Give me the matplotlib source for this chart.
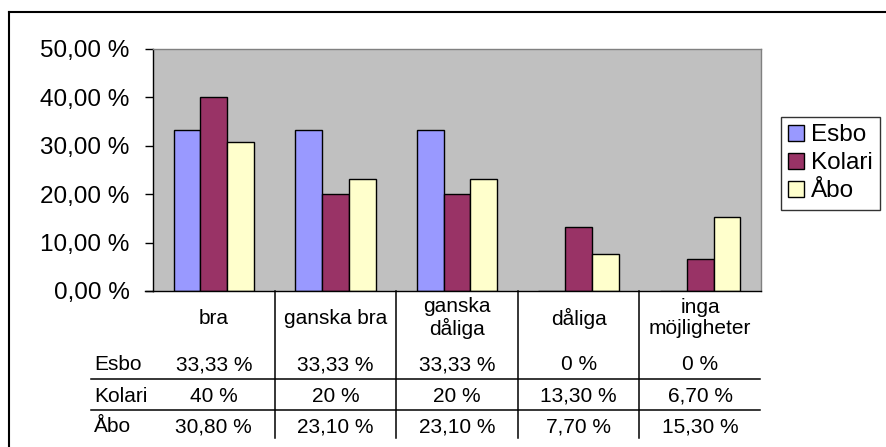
import matplotlib
matplotlib.use('Agg')
import matplotlib.pyplot as plt
import numpy as np
from matplotlib.lines import Line2D
from matplotlib.transforms import blended_transform_factory

categories = ['bra', 'ganska bra', 'ganska\ndåliga', 'dåliga', 'inga\nmöjligheter']
series_names = ['Esbo', 'Kolari', 'Åbo']
esbo = [33.33, 33.33, 33.33, 0, 0]
kolari = [40, 20, 20, 13.3, 6.7]
abo = [30.8, 23.1, 23.1, 7.7, 15.3]
yticks = [0, 10, 20, 30, 40, 50]
colors = ['#9999FF', '#993366', '#FFFFCC']

plt.rcParams['font.family'] = ['Liberation Sans', 'DejaVu Sans']

W, H = 886, 447
fig = plt.figure(figsize=(W / 100, H / 100), dpi=100)


def fx(px):
    return px / W


def fy(py):
    return 1 - py / H


ax = fig.add_axes([fx(153), fy(291), fx(761) - fx(153), fy(49) - fy(291)])
ax.set_facecolor('#C0C0C0')
n = len(categories)
x = np.arange(n)
bw = 0.22
all_series = [esbo, kolari, abo]
handles = []
for i, (vals, c, name) in enumerate(zip(all_series, colors, series_names)):
    h = ax.bar(x + (i - 1) * bw, vals, width=bw, color=c, edgecolor='black',
               linewidth=1, label=name, zorder=3)
    handles.append(h)
ax.set_xlim(-0.5, n - 0.5)
ax.set_ylim(0, 50)

ax.set_yticks(yticks)
ax.set_yticklabels([f"{v:.2f} %".replace('.', ',') for v in yticks])
ax.tick_params(axis='y', direction='out', length=5.8, width=1, pad=11,
               labelsize=17.5, colors='black')
ax.set_xticks([])
for s in ['top', 'right']:
    ax.spines[s].set_color('#808080')
    ax.spines[s].set_linewidth(1)
for s in ['left', 'bottom']:
    ax.spines[s].set_color('black')
    ax.spines[s].set_linewidth(1)
ax.spines['bottom'].set_zorder(4)

# extend x axis line to the 0 tick on the left
fig.add_artist(Line2D([fx(145), fx(153)], [fy(291), fy(291)], color='black', lw=1))

# data table
tr = blended_transform_factory(ax.transData, fig.transFigure)
tfs = 15
# vertical separators between categories
for b in np.arange(n - 1) + 0.5:
    ax.add_line(Line2D([b, b], [fy(291), fy(438)], transform=tr, color='black',
                       lw=1.1, clip_on=False))
# horizontal row lines
for yy in [379, 410]:
    fig.add_artist(Line2D([fx(91), fx(760)], [fy(yy), fy(yy)], color='black', lw=1.1))

for j, cat in enumerate(categories):
    ax.text(j, fy(318), cat, transform=tr, ha='center', va='center',
            fontsize=tfs, linespacing=1.15, clip_on=False)


def fmt(v):
    if float(v).is_integer():
        return f"{int(v)} %"
    return f"{v:.2f} %".replace('.', ',')


row_y = [365, 396, 427]
for name, vals, ry in zip(series_names, all_series, row_y):
    fig.text(fx(94), fy(ry), name, ha='left', va='center', fontsize=tfs)
    for j, v in enumerate(vals):
        ax.text(j, fy(ry), fmt(v), transform=tr, ha='center', va='center',
                fontsize=tfs, clip_on=False)

# legend
leg = fig.legend(handles=handles, labels=series_names, loc='upper left',
                 bbox_to_anchor=(fx(781), fy(117)), bbox_transform=fig.transFigure,
                 fancybox=False, frameon=True, edgecolor='black', fontsize=17.5,
                 handlelength=0.65, handleheight=0.65, handletextpad=0.3,
                 labelspacing=0.25, borderpad=0.3, borderaxespad=0)
leg.get_frame().set_linewidth(1)

# outer chart frame (top and left visible)
fig.add_artist(Line2D([fx(9), fx(900)], [fy(12), fy(12)], color='black', lw=1.5))
fig.add_artist(Line2D([fx(9), fx(9)], [fy(12), fy(460)], color='black', lw=1.5))

fig.savefig('out.png', dpi=100)
